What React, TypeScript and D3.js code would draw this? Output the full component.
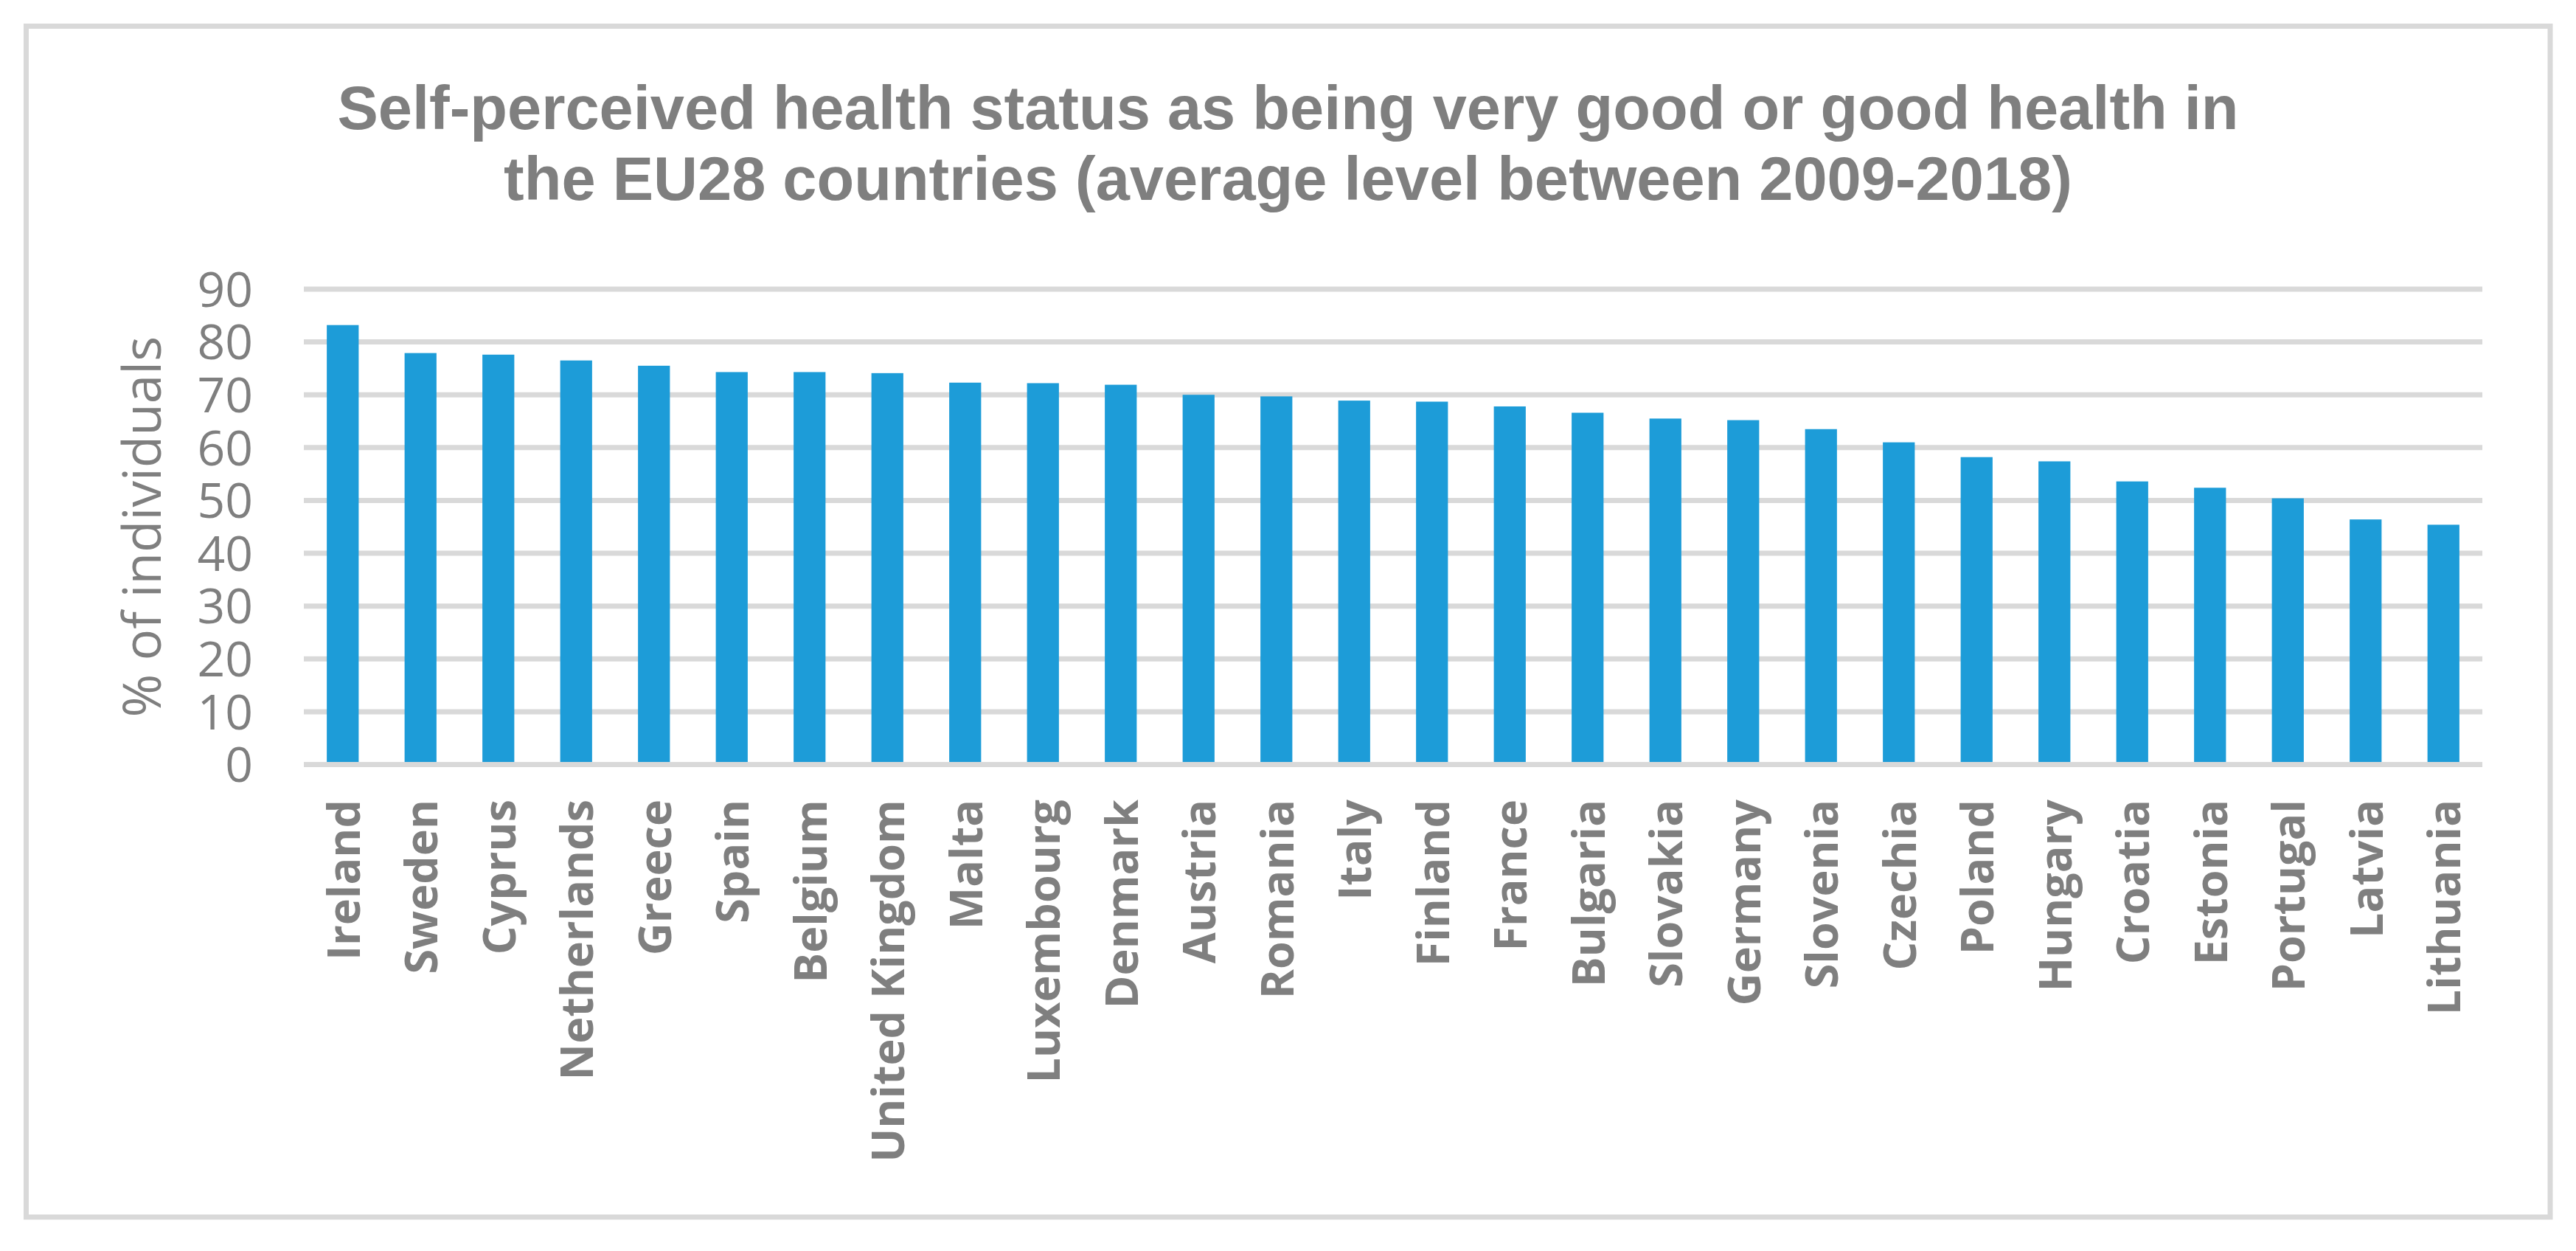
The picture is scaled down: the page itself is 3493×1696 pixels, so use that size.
import React, { useEffect, useRef } from 'react';
import * as d3 from 'd3';

const countries: string[] = [
  'Ireland', 'Sweden', 'Cyprus', 'Netherlands', 'Greece', 'Spain', 'Belgium',
  'United Kingdom', 'Malta', 'Luxembourg', 'Denmark', 'Austria', 'Romania',
  'Italy', 'Finland', 'France', 'Bulgaria', 'Slovakia', 'Germany', 'Slovenia',
  'Czechia', 'Poland', 'Hungary', 'Croatia', 'Estonia', 'Portugal', 'Latvia',
  'Lithuania',
];

const healthValues: number[] = [
  83.2, 77.9, 77.6, 76.5, 75.5, 74.3, 74.3,
  74.1, 72.3, 72.2, 71.9, 70.0, 69.7,
  68.9, 68.7, 67.8, 66.6, 65.5, 65.2, 63.5,
  61.0, 58.2, 57.4, 53.6, 52.4, 50.4, 46.4,
  45.4,
];

const yTicks: number[] = [0, 10, 20, 30, 40, 50, 60, 70, 80, 90];

const titleLines: string[] = [
  'Self-perceived health status as being very good or good health in',
  'the EU28 countries (average level between 2009-2018)',
];

const yAxisTitle = '% of individuals';

interface Datum {
  country: string;
  value: number;
}

const data: Datum[] = countries.map((c, i) => ({ country: c, value: healthValues[i] }));

const App: React.FC = () => {
  const width = 3493;
  const height = 1696;
  const plot = { left: 412, right: 3366, top: 392, bottom: 1036.5 };
  const textColor = '#7f7f7f';
  const gridColor = '#d9d9d9';

  const svgRef = useRef<SVGSVGElement>(null);

  useEffect(() => {
    document.body.style.margin = '0';

    const svg = d3.select(svgRef.current);
    svg.selectAll('*').remove();

    const x = d3.scaleBand<string>()
      .domain(countries)
      .range([plot.left, plot.right])
      .paddingInner(0.59)
      .paddingOuter(0.295);

    const y = d3.scaleLinear()
      .domain([0, 90])
      .range([plot.bottom, plot.top]);

    // outer frame
    svg.append('rect')
      .attr('x', 35.5)
      .attr('y', 35.5)
      .attr('width', 3458 - 35.5)
      .attr('height', 1650 - 35.5)
      .attr('fill', 'white')
      .attr('stroke', gridColor)
      .attr('stroke-width', 7);

    // title
    svg.append('text')
      .attr('x', width / 2)
      .attr('y', 175)
      .attr('text-anchor', 'middle')
      .style('font-family', '"Liberation Sans", Arial, sans-serif')
      .style('font-weight', 700)
      .style('font-size', '83px')
      .attr('fill', textColor)
      .selectAll('tspan')
      .data(titleLines)
      .join('tspan')
      .attr('x', width / 2)
      .attr('dy', (_d, i) => (i === 0 ? 0 : 96))
      .text(d => d);

    // gridlines
    svg.append('g')
      .selectAll('line')
      .data(yTicks)
      .join('line')
      .attr('x1', plot.left)
      .attr('x2', plot.right)
      .attr('y1', d => y(d))
      .attr('y2', d => y(d))
      .attr('stroke', gridColor)
      .attr('stroke-width', 7);

    // y tick labels
    svg.append('g')
      .selectAll('text')
      .data(yTicks)
      .join('text')
      .attr('x', 343)
      .attr('y', d => y(d))
      .attr('dy', '0.36em')
      .attr('text-anchor', 'end')
      .style('font-family', '"Open Sans", sans-serif')
      .style('font-size', '66px')
      .attr('fill', textColor)
      .text(d => d);

    // y axis title
    svg.append('text')
      .attr('transform', `translate(218,${(plot.top + plot.bottom) / 2}) rotate(-90)`)
      .attr('text-anchor', 'middle')
      .style('font-family', '"Open Sans", sans-serif')
      .style('font-size', '71px')
      .attr('fill', textColor)
      .text(yAxisTitle);

    // bars
    svg.append('g')
      .selectAll('rect')
      .data(data)
      .join('rect')
      .attr('x', d => x(d.country) as number)
      .attr('width', x.bandwidth())
      .attr('y', d => y(d.value))
      .attr('height', d => y(0) - 3.5 - y(d.value))
      .attr('fill', '#1d9cd8');

    // category labels
    svg.append('g')
      .selectAll('text')
      .data(data)
      .join('text')
      .attr('transform', d => `translate(${(x(d.country) as number) + x.bandwidth() / 2 + 23},1084) rotate(-90)`)
      .attr('text-anchor', 'end')
      .style('font-family', '"Open Sans", sans-serif')
      .style('font-weight', 700)
      .style('font-size', '61px')
      .attr('fill', textColor)
      .text(d => d.country);
  }, []);

  return (
    <div style={{ width, height }}>
      <svg ref={svgRef} width={width} height={height} style={{ display: 'block' }} />
    </div>
  );
};

export default App;
